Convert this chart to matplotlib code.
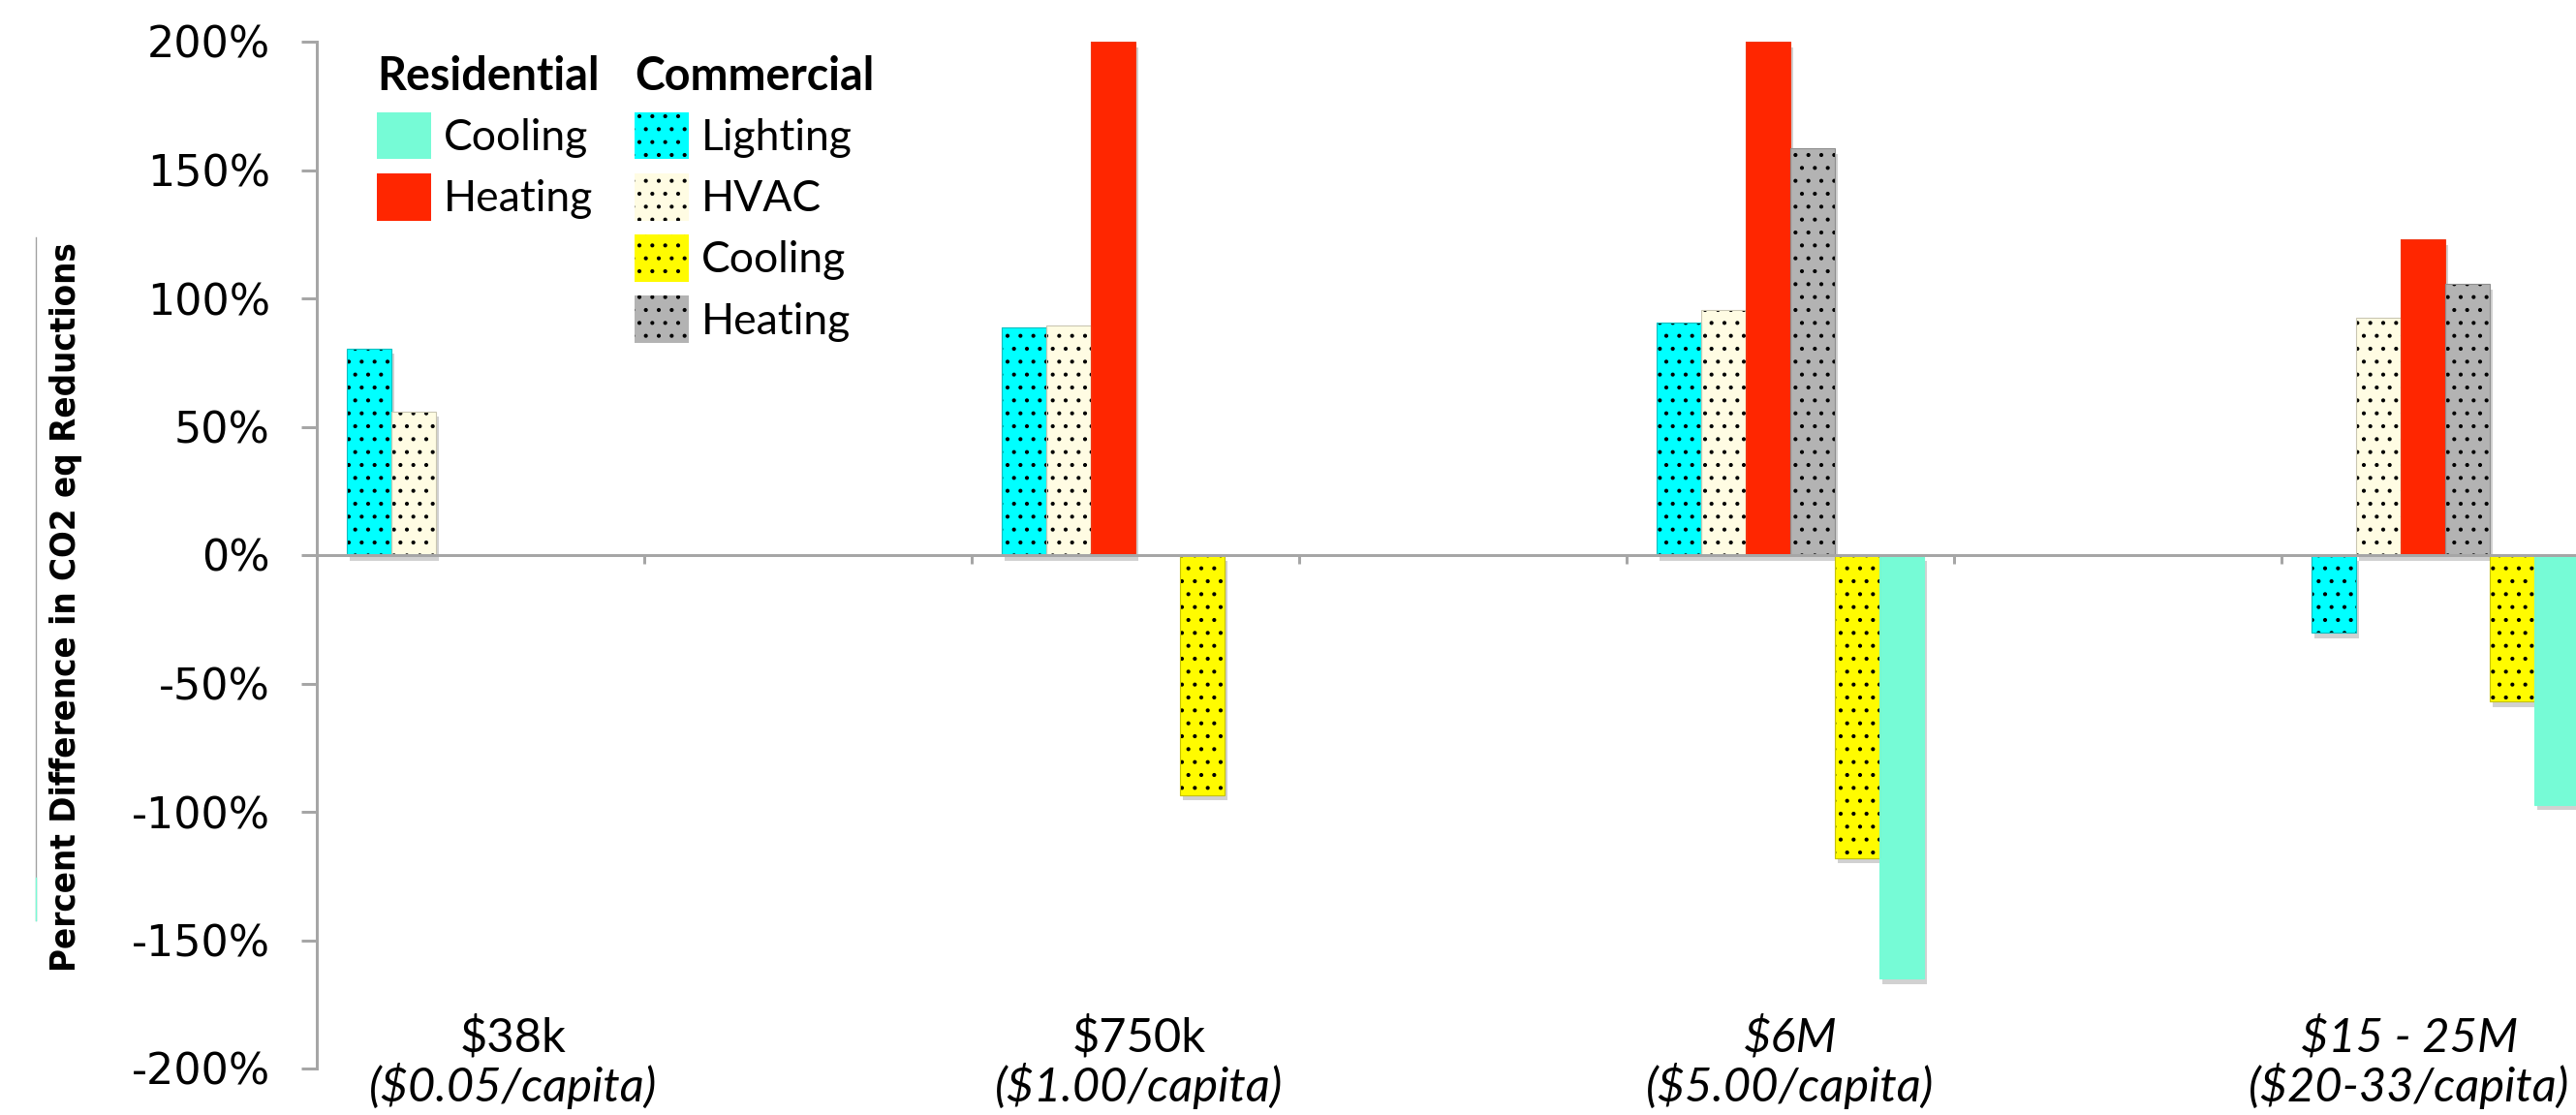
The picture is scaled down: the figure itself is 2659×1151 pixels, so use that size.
import numpy as np
import matplotlib
matplotlib.use("Agg")
import matplotlib.pyplot as plt
import matplotlib.patheffects as pe
import matplotlib.transforms as mtransforms
from matplotlib import font_manager
from matplotlib.font_manager import FontProperties
from matplotlib.patches import Patch
from matplotlib.lines import Line2D
from matplotlib.ticker import FuncFormatter

# ---------------- data ----------------
cost_labels = ["$38k", "$750k", "$6M", "$15 - 25M"]
per_capita_labels = ["($0.05/capita)", "($1.00/capita)", "($5.00/capita)", "($20-33/capita)"]
category_slots = [0, 2, 4, 6]          # odd category slots are blank in the original chart

com_lighting = [80.5, 88.5, 90.5, -30.2]
com_hvac = [56.0, 89.3, 95.5, 92.5]
res_heating = [np.nan, 200.0, 200.0, 123.0]
com_heating = [np.nan, np.nan, 158.5, 105.5]
com_cooling = [np.nan, -93.5, -118.0, -57.0]
res_cooling = [np.nan, np.nan, -165.0, -97.3]

y_ticks = [-200, -150, -100, -50, 0, 50, 100, 150, 200]

# ---------------- styles ----------------
W, H, DPI = 2659, 1151, 80
plt.rcParams["hatch.linewidth"] = 1.3
plt.rcParams["axes.unicode_minus"] = False

MINT = "#76FBD6"
RED = "#FF2600"
CYAN = "#00FFFF"
CREAM = "#FFFCE3"
YELLOW = "#FFFB00"
GRAY = "#B3B3B3"
AXIS_GRAY = "#A6A6A6"

series = [
    (com_lighting, CYAN, True, "#00BFC0"),
    (com_hvac, CREAM, True, "#C9C6B2"),
    (res_heating, RED, False, "#F03A18"),
    (com_heating, GRAY, True, "#8E8E8E"),
    (com_cooling, YELLOW, True, "#C6C200"),
    (res_cooling, MINT, False, MINT),
]

fig = plt.figure(figsize=(W / DPI, H / DPI), dpi=DPI)
ax_left, ax_top, ax_bottom, unit_px = 327, 43, 1103, 338
ax = fig.add_axes([ax_left / W, 1 - ax_bottom / H, 1 - ax_left / W, (ax_bottom - ax_top) / H])
ax.set_xlim(0, (W - ax_left) / unit_px)
ax.set_ylim(-200, 200)

n = len(series)
bw = 0.136
off = (1 - n * bw) / 2
slots = np.array(category_slots, dtype=float)
for j, (vals, fc, hatched, ec) in enumerate(series):
    v = np.array(vals, dtype=float)
    m = ~np.isnan(v)
    x = slots[m] + off + (j + 0.5) * bw
    ax.bar(x, v[m], width=bw, color="white", linewidth=0, zorder=1,
           path_effects=[pe.SimplePatchShadow(offset=(2.5, -5), shadow_rgbFace="black", alpha=0.18)])
    ax.bar(x, v[m], width=bw, color=fc, hatch="." if hatched else None,
           edgecolor="black", linewidth=0, zorder=2)
    ax.bar(x, v[m], width=bw, fill=False, edgecolor=ec, linewidth=1.0, zorder=3)

for s in ("top", "right"):
    ax.spines[s].set_visible(False)
ax.spines["bottom"].set_position(("data", 0))
for s in ("left", "bottom"):
    ax.spines[s].set_color(AXIS_GRAY)
    ax.spines[s].set_linewidth(2.7)
    ax.spines[s].set_zorder(4)

ax.set_yticks(y_ticks)
ax.yaxis.set_major_formatter(FuncFormatter(lambda v, p: f"{v:.0f}%"))
ax.tick_params(axis="y", direction="out", length=14.4, width=2.7, color=AXIS_GRAY,
               pad=29, labelsize=40, labelcolor="black")
for t in ax.get_yticklabels():
    t.set_fontfamily("DejaVu Sans")
ax.set_xticks(range(0, 7))
ax.tick_params(axis="x", direction="out", length=8, width=2.7, color=AXIS_GRAY, labelbottom=False)

# category labels (two lines)
label_x = [0.60, 2.51, 4.50, 6.39]
first_style = ["normal", "normal", "italic", "italic"]
trans = mtransforms.blended_transform_factory(ax.transData, fig.transFigure)
for k in range(len(cost_labels)):
    ax.text(label_x[k], 1 - 1071 / H, cost_labels[k], transform=trans, ha="center", va="center",
            fontsize=44, family="Lato", style=first_style[k], clip_on=False)
    ax.text(label_x[k], 1 - 1121 / H, per_capita_labels[k], transform=trans, ha="center", va="center",
            fontsize=44, family="Lato", style="italic", clip_on=False)

# y label: pick a narrow bold face if one is installed, then fit its length
narrow = None
for f in font_manager.fontManager.ttflist:
    name = f.name.lower()
    if ("narrow" in name or "condensed" in name or
            str(f.stretch) in ("condensed", "semi-condensed", "extra-condensed")):
        w = f.weight if isinstance(f.weight, int) else (700 if "bold" in str(f.weight) else 400)
        if w >= 600 and "mono" not in name and "serif" not in name:
            narrow = f.fname
            break
if narrow:
    ylab_fp = FontProperties(fname=narrow, size=42)
else:
    ylab_fp = FontProperties(family="DejaVu Sans", weight="bold", size=42)
ylab = fig.text(68 / W, 1 - 627 / H, "Percent Difference in CO2 eq Reductions", rotation=90,
                ha="center", va="center", fontproperties=ylab_fp)
renderer = fig.canvas.get_renderer()
ext = ylab.get_window_extent(renderer)
target = 750.0
ylab.set_fontsize(42 * target / ext.height)

fig.add_artist(Line2D([37 / W, 37 / W], [1 - 245 / H, 1 - 950 / H], color="#A0A0A0", lw=1.2))
fig.add_artist(Line2D([37 / W, 37 / W], [1 - 906 / H, 1 - 950 / H], color=MINT, lw=1.2))

# legends
fs = 40
fs_px = fs * DPI / 72
common = dict(loc="upper left", frameon=False, prop={"family": "Lato", "size": fs},
              title_fontproperties={"family": "Lato", "weight": "bold", "size": 42},
              alignment="left", handlelength=56 / fs_px, handleheight=58 / fs_px,
              labelspacing=0.33, handletextpad=0.3, borderpad=0, borderaxespad=0)
res_handles = [Patch(facecolor=MINT, edgecolor="none"), Patch(facecolor=RED, edgecolor="none")]
com_handles = [Patch(facecolor=c, hatch=".", edgecolor="black", linewidth=0)
               for c in (CYAN, CREAM, YELLOW, GRAY)]
fig.legend(res_handles, ["Cooling", "Heating"], title="Residential",
           bbox_to_anchor=(389 / W, 1 - 57 / H), **common)
fig.legend(com_handles, ["Lighting", "HVAC", "Cooling", "Heating"], title="Commercial",
           bbox_to_anchor=(655 / W, 1 - 57 / H), **common)

fig.savefig("out.png", dpi=DPI)
